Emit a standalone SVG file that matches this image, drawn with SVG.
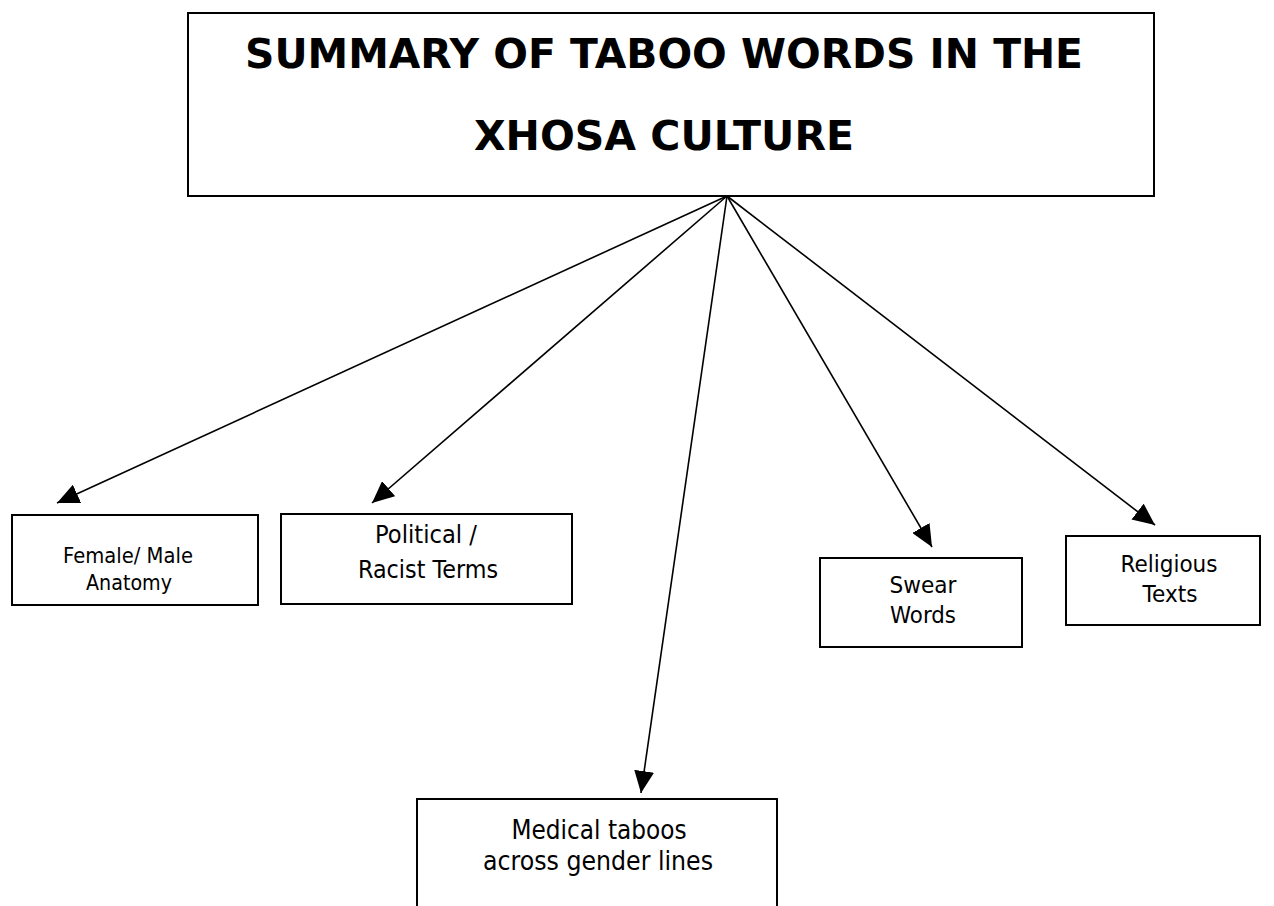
<svg xmlns="http://www.w3.org/2000/svg" width="1274" height="906" viewBox="0 0 1274 906">
<style>
.box{fill:#fff;stroke:#000;stroke-width:2}
.lbl{font-family:"DejaVu Sans","Liberation Sans",sans-serif;fill:#000;text-anchor:middle}
.title{font-family:"DejaVu Sans","Liberation Sans",sans-serif;font-weight:bold;font-size:40px;fill:#000;text-anchor:middle}
.conn{stroke:#000;stroke-width:1.6;fill:none;marker-end:url(#arr)}
</style>
<defs>
<marker id="arr" viewBox="0 0 22 20" refX="22" refY="10" markerWidth="22" markerHeight="20" markerUnits="userSpaceOnUse" orient="auto">
<path d="M0,0 L22,10 L0,20 z" fill="#000"/>
</marker>
</defs>
<rect width="1274" height="906" fill="#fff"/>
<g id="title">
<rect class="box" x="188" y="13" width="966" height="183"/>
<text class="title" x="664" y="68" textLength="838" lengthAdjust="spacingAndGlyphs">SUMMARY OF TABOO WORDS IN THE</text>
<text class="title" x="664" y="150" textLength="380" lengthAdjust="spacingAndGlyphs">XHOSA CULTURE</text>
</g>
<g id="connectors">
<line class="conn" x1="727" y1="196" x2="57" y2="503"/>
<line class="conn" x1="727" y1="196" x2="372" y2="503"/>
<line class="conn" x1="727" y1="196" x2="641" y2="793"/>
<line class="conn" x1="727" y1="196" x2="932" y2="547"/>
<line class="conn" x1="727" y1="196" x2="1155" y2="525"/>
</g>
<g id="anatomy">
<rect class="box" x="12" y="515" width="246" height="90"/>
<text class="lbl" font-size="22" x="128" y="563" textLength="130" lengthAdjust="spacingAndGlyphs">Female/ Male</text>
<text class="lbl" font-size="22" x="129" y="590" textLength="86" lengthAdjust="spacingAndGlyphs">Anatomy</text>
</g>
<g id="political">
<rect class="box" x="281" y="514" width="291" height="90"/>
<text class="lbl" font-size="25" x="426" y="543" textLength="102" lengthAdjust="spacingAndGlyphs">Political /</text>
<text class="lbl" font-size="25" x="428" y="578" textLength="140" lengthAdjust="spacingAndGlyphs">Racist Terms</text>
</g>
<g id="medical">
<rect class="box" x="417" y="799" width="360" height="130"/>
<text class="lbl" font-size="26" x="599" y="839" textLength="175" lengthAdjust="spacingAndGlyphs">Medical taboos</text>
<text class="lbl" font-size="26" x="598" y="870" textLength="230" lengthAdjust="spacingAndGlyphs">across gender lines</text>
</g>
<g id="swear">
<rect class="box" x="820" y="558" width="202" height="89"/>
<text class="lbl" font-size="23" x="923" y="593" textLength="67" lengthAdjust="spacingAndGlyphs">Swear</text>
<text class="lbl" font-size="23" x="923" y="623" textLength="66" lengthAdjust="spacingAndGlyphs">Words</text>
</g>
<g id="religious">
<rect class="box" x="1066" y="536" width="194" height="89"/>
<text class="lbl" font-size="23" x="1169" y="572" textLength="97" lengthAdjust="spacingAndGlyphs">Religious</text>
<text class="lbl" font-size="23" x="1170" y="602" textLength="55" lengthAdjust="spacingAndGlyphs">Texts</text>
</g>
</svg>
